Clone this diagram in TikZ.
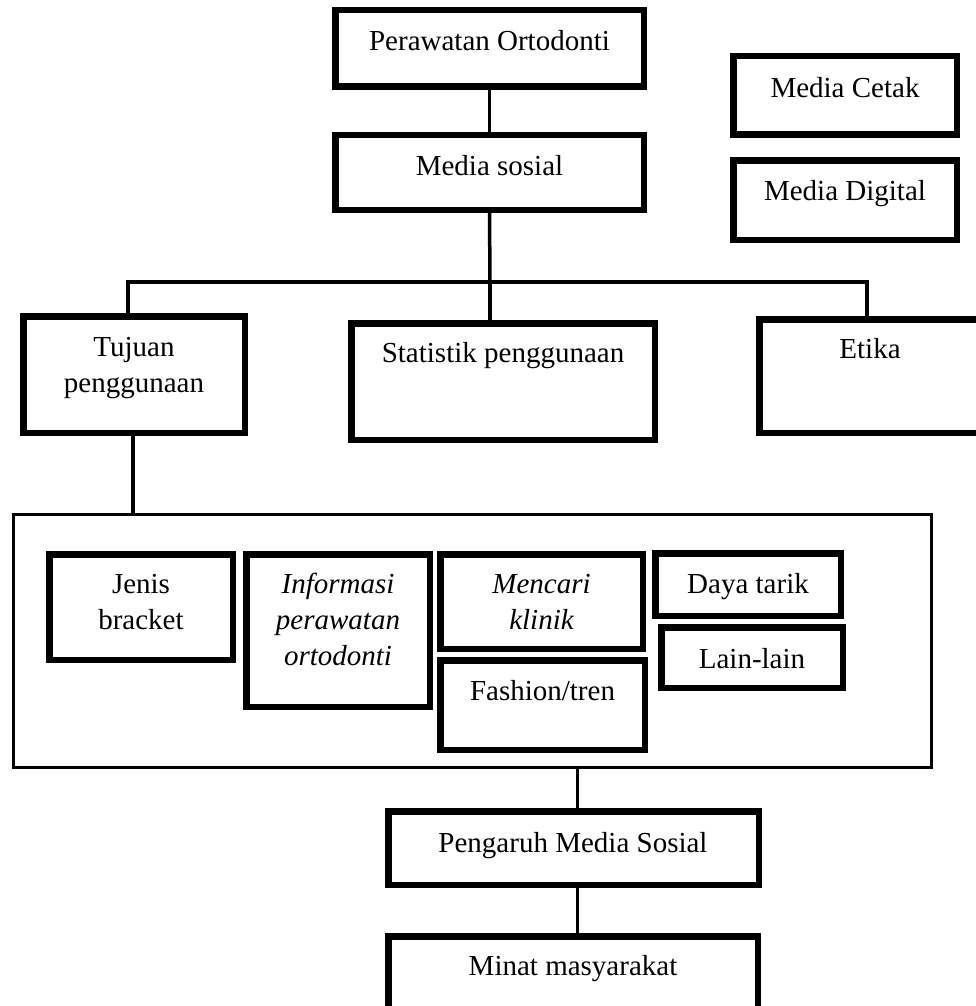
\documentclass[tikz,border=0pt]{standalone}
\usepackage{fontspec}
\setmainfont{Liberation Serif}
\begin{document}
\begin{tikzpicture}[x=1pt,y=-1pt,
  box/.style={draw=black,line width=6.5pt,fill=white,inner sep=0pt,rectangle},
  frame/.style={draw=black,line width=3pt,inner sep=0pt,rectangle},
  conn/.style={draw=black,line width=3.5pt},
  lbl/.style={inner sep=0pt,anchor=north,align=center,font=\fontsize{29}{36}\selectfont},
  ilbl/.style={lbl,font=\fontsize{29}{36}\selectfont\itshape}]
\path[use as bounding box] (0,0) rectangle (976,1006);
\clip (0,0) rectangle (976,1006);
% boxes
\node[box,minimum width=308.5pt,minimum height=76.5pt] (po) at (489.5,48.5) {};
\node[box,minimum width=308.5pt,minimum height=74.5pt] (ms) at (489.5,172.5) {};
\node[box,minimum width=223.5pt,minimum height=78.5pt] (mc) at (845,95.5) {};
\node[box,minimum width=223.5pt,minimum height=79.5pt] (md) at (845,200) {};
\node[box,minimum width=221.5pt,minimum height=116.5pt] (tj) at (134,374.5) {};
\node[box,minimum width=303.5pt,minimum height=116.5pt] (st) at (503,381.5) {};
\node[box,minimum width=222.5pt,minimum height=113.5pt] (et) at (870.5,376) {};
\node[frame,minimum width=918pt,minimum height=253pt] (cont) at (472.5,641) {};
\node[box,minimum width=183.5pt,minimum height=105.5pt] (jb) at (141,607) {};
\node[box,minimum width=183.5pt,minimum height=152.5pt] (ip) at (338,630.5) {};
\node[box,minimum width=202.5pt,minimum height=94.5pt] (mk) at (541.5,601.5) {};
\node[box,minimum width=204.5pt,minimum height=89.5pt] (ft) at (542.5,705) {};
\node[box,minimum width=185.5pt,minimum height=62.5pt] (dt) at (748,584.5) {};
\node[box,minimum width=181.5pt,minimum height=60.5pt] (ll) at (752,657.5) {};
\node[box,minimum width=370.5pt,minimum height=73.5pt] (pm) at (573.5,848) {};
\node[box,minimum width=369.5pt,minimum height=100.5pt] (mm) at (573,986.5) {};
% labels (top = first baseline - 0.7*36)
\node[lbl] (tpo) at (489.5,24.8) {\strut Perawatan Ortodonti};
\node[lbl] (tms) at (489.5,149.8) {\strut Media sosial};
\node[lbl] (tmc) at (845,71.8) {\strut Media Cetak};
\node[lbl] (tmd) at (845,174.8) {\strut Media Digital};
\node[lbl] (ttj) at (134,330.8) {\strut Tujuan\\\strut penggunaan};
\node[lbl] (tst) at (503,336.8) {\strut Statistik penggunaan};
\node[lbl] (tet) at (870,332.8) {\strut Etika};
\node[lbl] (tjb) at (141,567.8) {\strut Jenis\\\strut bracket};
\node[ilbl] (tip) at (338,567.8) {\strut Informasi\\\strut perawatan\\\strut ortodonti};
\node[ilbl] (tmk) at (541.5,567.8) {\strut Mencari\\\strut klinik};
\node[lbl] (tft) at (542.5,674.8) {\strut Fashion/tren};
\node[lbl] (tdt) at (748,567.8) {\strut Daya tarik};
\node[lbl] (tll) at (752,642.8) {\strut Lain-lain};
\node[lbl] (tpm) at (573,826.8) {\strut Pengaruh Media Sosial};
\node[lbl] (tmm) at (573,949.8) {\strut Minat masyarakat};
% connectors
\coordinate (hl) at (490,282);
\draw[conn] (po.south) -- (ms.north);
\draw[conn] (ms.south) -- (hl);
\draw[conn] (hl) -| ([xshift=-6pt]tj.north);
\draw[conn] (hl) -| ([xshift=-3.5pt]et.north);
\draw[conn] (hl) -- (hl |- st.north);
\draw[conn] ([xshift=-1pt]tj.south) -- ([xshift=-1pt]tj.south |- cont.north);
\draw[conn] ([xshift=4pt]pm.north) -- ([xshift=4pt]pm.north |- cont.south);
\draw[conn] ([xshift=4pt]pm.south) -- ([xshift=4pt]pm.south |- mm.north);
\end{tikzpicture}
\end{document}
